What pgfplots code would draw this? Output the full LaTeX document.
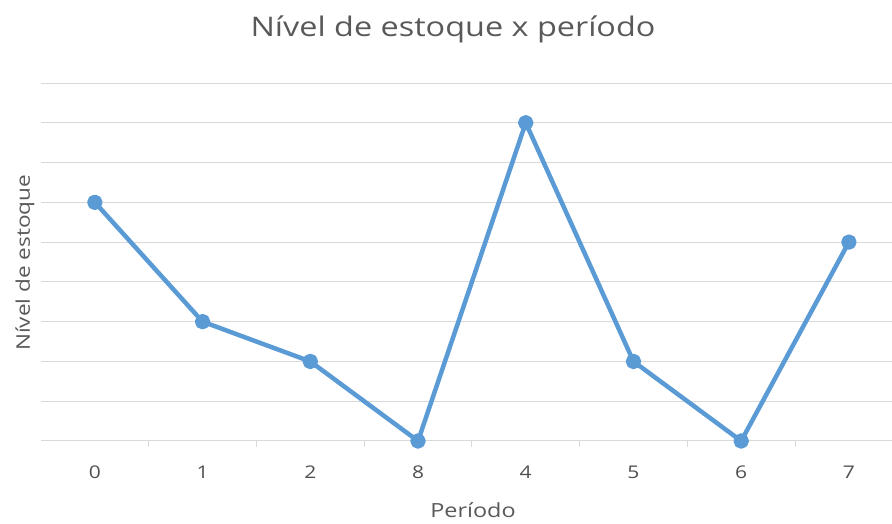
\documentclass[border=0pt]{standalone}
\usepackage{pgfplots}
\pgfplotsset{compat=1.18}
\usepackage{fontspec}
\setmainfont{Open Sans}[FakeStretch=1.2]
\definecolor{txtgray}{HTML}{595959}
\definecolor{gridgray}{HTML}{D9D9D9}
\definecolor{lineblue}{HTML}{5B9BD5}

\pgfplotstableread{
idx val
0 6
1 3
2 2
3 0
4 8
5 2
6 0
7 5
}\estoque

\begin{document}
\begin{tikzpicture}
\path[use as bounding box] (0,0) rectangle (892pt,524pt);
\begin{axis}[
  at={(41pt,83pt)}, anchor=south west,
  scale only axis, width=851pt, height=358pt,
  xmin=-0.5, xmax=7.4, ymin=0, ymax=9,
  axis x line*=bottom, axis y line*=left,
  x axis line style={draw=gridgray, line width=1pt},
  y axis line style={draw=none},
  xtick={0,...,7},
  xticklabels={0,1,2,8,4,5,6,7},
  major tick length=0pt,
  extra x ticks={0.5,1.5,...,6.5},
  extra x tick labels={},
  extra x tick style={major tick length=6pt, tick style={draw=gridgray, line width=1pt}, tick align=outside, grid=none},
  ytick={1,...,9},
  ytick style={draw=none},
  ymajorgrids, major grid style={draw=gridgray, line width=1pt},
  yticklabels={},
  xticklabel style={font=\fontsize{17.5}{20}\selectfont, text=txtgray!90!black, anchor=base, yshift=-38pt},
  /pgf/number format/assume math mode=true,
  clip=false,
]
\addplot[lineblue, line width=4.5pt, line join=round, mark=*, mark size=5.5pt, mark options={fill=lineblue, draw=none}] table[x=idx, y=val] {\estoque};
\end{axis}
\node[text=txtgray, font=\fontsize{27}{31}\selectfont, anchor=base] at (453pt,487pt) {Nível de estoque x período};
\node[text=txtgray, font=\fontsize{18.8}{22}\selectfont, rotate=90] at (25pt,261pt) {Nível de estoque};
\node[text=txtgray, font=\fontsize{19.5}{22}\selectfont, anchor=base] at (473pt,6pt) {Período};
\end{tikzpicture}
\end{document}
